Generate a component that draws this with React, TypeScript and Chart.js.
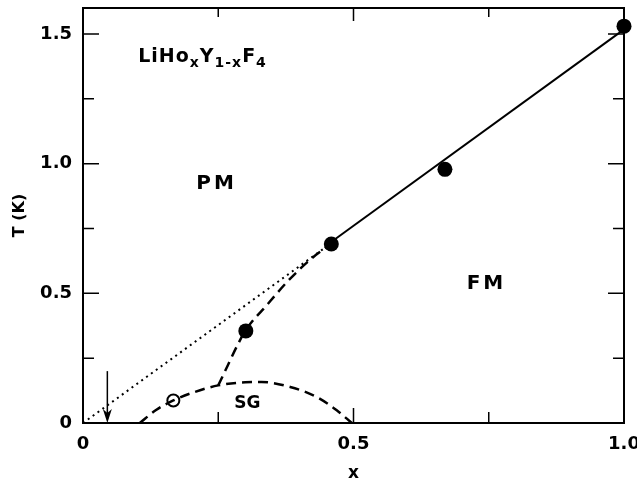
import React, { useEffect, useRef } from "react";
import { Chart, registerables } from "chart.js";

Chart.register(...registerables);

const FONT = "'DejaVu Sans', 'Liberation Sans', sans-serif";

// axis ticks
const xTickValues = [0, 0.25, 0.5, 0.75, 1.0];
const xLabelValues = [0, 0.5, 1.0];
const xLabelTexts = ["0", "0.5", "1.0"];
const yTickValues = [0, 0.25, 0.5, 0.75, 1.0, 1.25, 1.5];
const yLabelValues = [0, 0.5, 1.0, 1.5];
const yLabelTexts = ["0", "0.5", "1.0", "1.5"];

// measured transition temperatures (filled circles)
const tcX = [0.301, 0.459, 0.669, 1.0];
const tcY = [0.355, 0.69, 0.978, 1.53];
// spin-glass point (open circle)
const sgPointX = [0.167];
const sgPointY = [0.087];

// solid FM/PM line
const fitX = [0.46, 0.995];
const fitY = [0.7, 1.51];
// dotted mean-field extrapolation
const dotX = [0, 0.45];
const dotY = [0, 0.68];
// dashed FM boundary below x=0.46
const fmBoundX = [0.25, 0.3, 0.34, 0.38, 0.42, 0.458];
const fmBoundY = [0.145, 0.355, 0.455, 0.55, 0.63, 0.69];
// dashed SG dome
const sgX = [0.105, 0.135, 0.167, 0.2, 0.25, 0.3, 0.33, 0.383, 0.432, 0.469, 0.497];
const sgY = [0, 0.05, 0.087, 0.115, 0.145, 0.157, 0.158, 0.139, 0.1, 0.049, 0];

// arrow marking x_c
const arrowX = 0.045;
const arrowTopY = 0.2;
const arrowBottomY = 0;

// region labels
const regionTexts = ["PM", "FM", "SG"];
const regionX = [0.244, 0.743, 0.304];
const regionY = [0.922, 0.537, 0.076];
const regionSizes = [20, 20, 17];

// formula label
const formulaParts = ["LiHo", "x", "Y", "1-x", "F", "4"];
const formulaSub = [false, true, false, true, false, true];
const formulaX = 0.102;
const formulaY = 1.393;

const pts = (xs: number[], ys: number[]) => xs.map((x, i) => ({ x, y: ys[i] }));

const decorPlugin = {
  id: "decor",
  afterDatasetsDraw(chart: any) {
    const ctx = chart.ctx as CanvasRenderingContext2D;
    const xs = chart.scales.x;
    const ys = chart.scales.y;
    const { left, right, top, bottom } = chart.chartArea;
    ctx.save();
    ctx.strokeStyle = "#000";
    ctx.fillStyle = "#000";
    // frame
    ctx.lineWidth = 2;
    ctx.strokeRect(left, top, right - left, bottom - top);
    // ticks
    ctx.lineWidth = 1.5;
    ctx.beginPath();
    xTickValues.forEach((v) => {
      const px = xs.getPixelForValue(v);
      const major = xLabelValues.includes(v);
      const len = major ? 15 : 11;
      if (v > 0 && v < 1) {
        ctx.moveTo(px, bottom);
        ctx.lineTo(px, bottom - len);
        ctx.moveTo(px, top);
        ctx.lineTo(px, top + len - 2);
      }
    });
    yTickValues.forEach((v) => {
      const py = ys.getPixelForValue(v);
      const major = yLabelValues.includes(v);
      const len = major ? 16 : 11;
      if (v > 0) {
        ctx.moveTo(left, py);
        ctx.lineTo(left + len, py);
        ctx.moveTo(right, py);
        ctx.lineTo(right - len, py);
      }
    });
    ctx.stroke();
    // arrow
    const ax = xs.getPixelForValue(arrowX);
    const ay1 = ys.getPixelForValue(arrowTopY);
    const ay2 = ys.getPixelForValue(arrowBottomY);
    ctx.lineWidth = 1.5;
    ctx.beginPath();
    ctx.moveTo(ax, ay1);
    ctx.lineTo(ax, ay2 - 4);
    ctx.stroke();
    ctx.beginPath();
    ctx.moveTo(ax, ay2);
    ctx.lineTo(ax - 4.5, ay2 - 14);
    ctx.lineTo(ax, ay2 - 10);
    ctx.lineTo(ax + 4.5, ay2 - 14);
    ctx.closePath();
    ctx.fill();
    // region labels
    ctx.textAlign = "center";
    ctx.textBaseline = "middle";
    regionTexts.forEach((t, i) => {
      ctx.font = `bold ${regionSizes[i]}px ${FONT}`;
      (ctx as any).letterSpacing = i < 2 ? "3px" : "0px";
      ctx.fillText(t, xs.getPixelForValue(regionX[i]) + (i < 2 ? 1.5 : 0), ys.getPixelForValue(regionY[i]));
    });
    // formula
    ctx.textAlign = "left";
    ctx.textBaseline = "alphabetic";
    (ctx as any).letterSpacing = "1px";
    let cx = xs.getPixelForValue(formulaX);
    const by = ys.getPixelForValue(formulaY);
    formulaParts.forEach((t, i) => {
      const sub = formulaSub[i];
      ctx.font = sub ? `bold 14px ${FONT}` : `bold 19px ${FONT}`;
      ctx.fillText(t, cx, sub ? by + 5 : by);
      cx += ctx.measureText(t).width;
    });
    ctx.restore();
  },
};

export default function App() {
  const ref = useRef<HTMLCanvasElement | null>(null);
  useEffect(() => {
    if (!ref.current) return;
    const dashed = [10, 6];
    const chart = new Chart(ref.current, {
      type: "scatter",
      data: {
        datasets: [
          {
            data: pts(fitX, fitY),
            showLine: true,
            borderColor: "#000",
            borderWidth: 2,
            pointRadius: 0,
          },
          {
            data: pts(dotX, dotY),
            showLine: true,
            borderColor: "#000",
            borderWidth: 2,
            borderDash: [2, 4],
            pointRadius: 0,
          },
          {
            data: pts(fmBoundX, fmBoundY),
            showLine: true,
            borderColor: "#000",
            borderWidth: 2.5,
            borderDash: dashed,
            cubicInterpolationMode: "monotone",
            pointRadius: 0,
          },
          {
            data: pts(sgX, sgY),
            showLine: true,
            borderColor: "#000",
            borderWidth: 2.5,
            borderDash: dashed,
            cubicInterpolationMode: "monotone",
            pointRadius: 0,
          },
          {
            data: pts(tcX, tcY),
            showLine: false,
            pointRadius: 7.5,
            pointBackgroundColor: "#000",
            pointBorderColor: "#000",
            pointBorderWidth: 0,
            clip: false,
          },
          {
            data: pts(sgPointX, sgPointY),
            showLine: false,
            pointRadius: 6,
            pointBackgroundColor: "#fff",
            pointBorderColor: "#000",
            pointBorderWidth: 2,
          },
        ] as any,
      },
      options: {
        animation: false,
        responsive: false,
        maintainAspectRatio: false,
        layout: { padding: { top: 8, right: 13, left: 0, bottom: 0 } },
        plugins: { legend: { display: false }, tooltip: { enabled: false } },
        scales: {
          x: {
            type: "linear",
            position: "bottom",
            min: 0,
            max: 1,
            afterFit: (s: any) => {
              s.height = 61;
              s.paddingLeft = 0;
              s.paddingRight = 0;
            },
            grid: { display: false, drawTicks: false },
            border: { display: false },
            ticks: {
              stepSize: 0.25,
              autoSkip: false,
              maxRotation: 0,
              padding: 11,
              color: "#000",
              font: { family: FONT, size: 18, weight: "bold" },
              callback: (v: any) => {
                const i = xLabelValues.findIndex((l) => Math.abs(l - Number(v)) < 1e-6);
                return i >= 0 ? xLabelTexts[i] : "";
              },
            },
            title: {
              display: true,
              text: "x",
              color: "#000",
              font: { family: FONT, size: 17, weight: "bold" },
              padding: { top: 0, bottom: 0 },
            },
          },
          y: {
            type: "linear",
            position: "left",
            min: 0,
            max: 1.6,
            afterFit: (s: any) => {
              s.width = 83;
              s.paddingTop = 0;
              s.paddingBottom = 0;
            },
            grid: { display: false, drawTicks: false },
            border: { display: false },
            ticks: {
              stepSize: 0.25,
              autoSkip: false,
              padding: 11,
              color: "#000",
              font: { family: FONT, size: 18, weight: "bold" },
              callback: (v: any) => {
                const i = yLabelValues.findIndex((l) => Math.abs(l - Number(v)) < 1e-6);
                return i >= 0 ? yLabelTexts[i] : "";
              },
            },
            title: {
              display: true,
              text: "T (K)",
              color: "#000",
              font: { family: FONT, size: 16, weight: "bold" },
              padding: { top: 10, bottom: 0 },
            },
          },
        },
      } as any,
      plugins: [decorPlugin],
    });
    return () => chart.destroy();
  }, []);
  return (
    <div style={{ position: "fixed", left: 0, top: 0, width: 637, height: 484, background: "#fff" }}>
      <canvas ref={ref} width={637} height={484} style={{ width: 637, height: 484 }} />
    </div>
  );
}
